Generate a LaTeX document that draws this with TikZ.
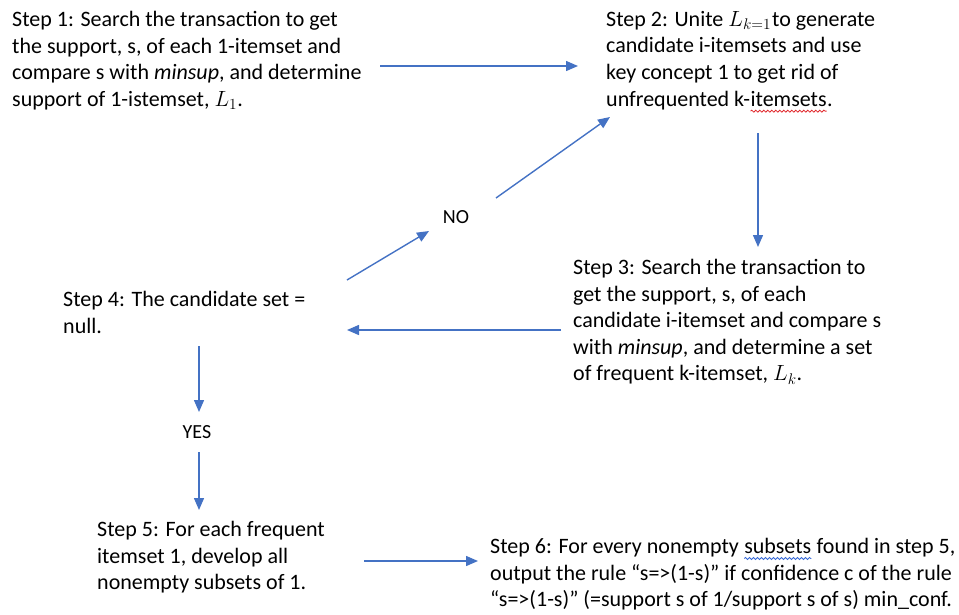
\RequirePackage{fix-cm}
\documentclass[tikz,border=0pt]{standalone}
\usepackage{fontspec}
\setmainfont{Carlito}
\usetikzlibrary{arrows.meta,decorations.pathmorphing}
\definecolor{flowblue}{HTML}{4472C4}
\definecolor{spellred}{HTML}{E0282C}
\definecolor{spellblue}{HTML}{3A6BD6}
\tikzset{
  steptext/.style={anchor=north west,align=left,inner sep=0pt,font=\fontsize{22}{26.6}\selectfont},
  answer/.style={inner sep=1pt,font=\fontsize{20}{22}\selectfont},
  flow/.style={draw=flowblue,line width=1.4pt,-{Triangle[length=12pt,width=10pt]}}
}
% word with a wavy spell-check line under it
\newcommand\wavyword[2]{\tikz[baseline=(w.base)]{\node[inner sep=0pt,outer sep=0pt] (w) {#2};
  \draw[#1,line width=0.8pt,decorate,decoration={snake,amplitude=1pt,segment length=4pt}]
    ([yshift=-5pt]w.base west) -- ([yshift=-5pt]w.base east);}}

\begin{document}
\begin{tikzpicture}[x=1pt,y=-1pt]
\useasboundingbox (0,0) rectangle (959,614);

% steps
\node[steptext] (step1) at (12,11) {Step 1: Search the transaction to get\\
  the support, s, of each 1-itemset and\\
  compare s with \textit{minsup}, and determine\\
  support of 1-istemset, $L_1$.};
\node[steptext] (step2) at (606,11) {Step 2: Unite $L_{k=1}$\kern1pt to generate\\
  candidate i-itemsets and use\\
  key concept 1 to get rid of\\
  unfrequented k-\wavyword{spellred}{itemsets}.};
\node[steptext] (step3) at (573,259) {Step 3: Search the transaction to\\
  get the support, s, of each\\
  candidate i-itemset and compare s\\
  with \textit{minsup}, and determine a set\\
  of frequent k-itemset, $L_k$.};
\node[steptext] (step4) at (63,291) {Step 4: The candidate set =\\
  null.};
\node[steptext] (step5) at (97,521) {Step 5: For each frequent\\
  itemset 1, develop all\\
  nonempty subsets of 1.};
\node[steptext] (step6) at (490,538) {Step 6: For every nonempty \wavyword{spellblue}{subsets} found in step 5,\\
  output the rule “s=>(1-s)” if confidence c of the rule\\
  “s=>(1-s)” (=support s of 1/support s of s) min\_conf.};

% answers
\node[answer] (no) at (456,217) {NO};
\node[answer] (yes) at (197,432) {YES};

% arrow ends
\coordinate (s1out) at (380,66);
\coordinate (s2in) at (578,66);
\coordinate (s2out) at (758,133);
\coordinate (s3in) at (758,247);
\coordinate (s3out) at (561,330);
\coordinate (s4in) at (347,330);
\coordinate (s4up) at (347,280);
\coordinate (noin) at (429,231);
\coordinate (noout) at (496,198);
\coordinate (s2back) at (610,117);
\coordinate (s4down) at (199,346);
\coordinate (yesin) at (199,412);
\coordinate (yesout) at (199,452);
\coordinate (s5in) at (199,510);
\coordinate (s5out) at (364,561);
\coordinate (s6in) at (478,561);

% connectors
\draw[flow] (s1out) -- (s2in);
\draw[flow] (s2out) -- (s3in);
\draw[flow] (s3out) -- (s4in);
\draw[flow] (s4up) -- (noin);
\draw[flow] (noout) -- (s2back);
\draw[flow] (s4down) -- (yesin);
\draw[flow] (yesout) -- (s5in);
\draw[flow] (s5out) -- (s6in);
\end{tikzpicture}
\end{document}
